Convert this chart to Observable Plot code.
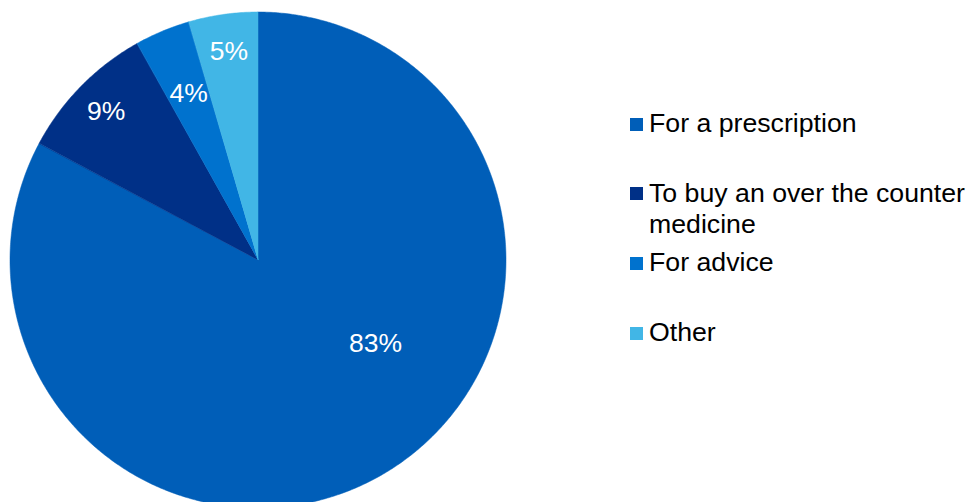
<!DOCTYPE html>
<html>
<head>
<meta charset="utf-8">
<script src="https://cdn.jsdelivr.net/npm/d3@7"></script>
<script src="https://cdn.jsdelivr.net/npm/@observablehq/plot@0.6"></script>
<style>
  html, body { margin: 0; padding: 0; background: #fff; overflow: hidden; }
  #wrap { position: relative; width: 974px; height: 502px; overflow: hidden; font-family: "Liberation Sans", Arial, sans-serif; }
  #chart { position: absolute; left: 0; top: 0; }
  #legend { position: absolute; left: 630px; top: 108px; }
  .item { display: flex; align-items: flex-start; height: 69.7px; }
  .sw { width: 13px; height: 13px; margin-top: 9.5px; margin-right: 6px; flex: none; }
  .lbl { font-size: 26.7px; line-height: 31px; color: #000; width: 330px; }
</style>
</head>
<body>
<div id="wrap">
  <div id="chart"></div>
  <div id="legend"></div>
</div>
<script>
// ---- data ----
const categories = ["For a prescription", "To buy an over the counter medicine", "For advice", "Other"];
const values = [82.8, 9.1, 3.6, 4.5];
const colors = ["#005EB8", "#003087", "#0072CE", "#41B6E6"];

// ---- layout (label placement inside the slices) ----
const labelRadius = [0.579, 0.86, 0.73, 0.85];
const labelAngleShift = [-23.7, 0, 0, 0];

const total = d3.sum(values);
const toRad = Math.PI / 180;

// slice outlines (unit circle, clockwise from 12 o'clock)
const outline = [];
const labels = [];
let acc = 0;
values.forEach((v, i) => {
  const a0 = acc / total * 360;
  const a1 = (acc + v) / total * 360;
  acc += v;
  const steps = Math.max(2, Math.ceil((a1 - a0) / 0.5));
  for (let k = 0; k <= steps; k++) {
    const a = (a0 + (a1 - a0) * k / steps) * toRad;
    outline.push({cat: categories[i], px: Math.sin(a), py: Math.cos(a)});
  }
  const m = ((a0 + a1) / 2 + labelAngleShift[i]) * toRad;
  labels.push({cat: categories[i], text: Math.round(v / total * 100) + "%",
               lx: labelRadius[i] * Math.sin(m), ly: labelRadius[i] * Math.cos(m)});
});

const chart = Plot.plot({
  width: 520,
  height: 502,
  margin: 0,
  x: {domain: [-1, 1], range: [10, 506], axis: null},
  y: {domain: [-1, 1], range: [508, 12], axis: null},
  color: {domain: categories, range: colors},
  style: {fontFamily: '"Liberation Sans", Arial, sans-serif', background: "transparent", overflow: "hidden"},
  marks: [
    Plot.area(outline, {x1: "px", y1: "py", x2: 0, y2: 0, z: "cat", fill: "cat", stroke: "cat", strokeWidth: 0.5}),
    Plot.text(labels, {x: "lx", y: "ly", text: "text", fill: "white", fontSize: 26.5, fontFamily: '"Liberation Sans", Arial, sans-serif'})
  ]
});
document.getElementById("chart").appendChild(chart);

// legend
const legend = document.getElementById("legend");
categories.forEach((c, i) => {
  const item = document.createElement("div");
  item.className = "item";
  const sw = document.createElement("div");
  sw.className = "sw";
  sw.style.background = colors[i];
  const lbl = document.createElement("div");
  lbl.className = "lbl";
  lbl.textContent = c;
  item.appendChild(sw);
  item.appendChild(lbl);
  legend.appendChild(item);
});
</script>
</body>
</html>
